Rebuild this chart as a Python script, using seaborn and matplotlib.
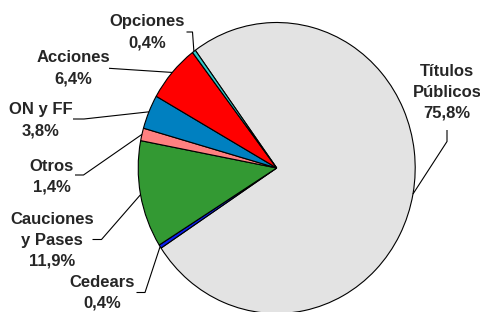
import numpy as np
import matplotlib
matplotlib.use("Agg")
import matplotlib.pyplot as plt
import seaborn as sns

categorias = ["Títulos\nPúblicos", "Cedears", "Cauciones\ny Pases", "Otros", "ON y FF", "Acciones", "Opciones"]
porcentajes = [75.8, 0.4, 11.9, 1.4, 3.8, 6.4, 0.4]
colores = ["#E3E3E3", "#0A1EF0", "#339933", "#FF8080", "#0080C0", "#FF0000", "#33CCCC"]

# posiciones de etiquetas (pixeles) y quiebres de las lineas guia
pos_texto = [(447, 92.5), (102, 293), (52, 240.5), (52, 177), (41, 120), (73, 68.5), (147, 32)]
guias = [
    [(447, 130), (447, 141.5)],
    [(136.5, 292.5), (145, 292.5)],
    [(92.5, 239.5), (101.5, 239.5)],
    [(75, 175), (83.5, 175)],
    [(73, 119), (84, 119)],
    [(109, 68.3)],
    [(186.5, 32), (192.5, 32)],
]

W, H = 481, 312
CX, CY, RX, RY = 276.7, 168.0, 138.5, 145.5


def a_datos(px, py):
    return (px - CX) / RX, (CY - py) / RY


sns.set_style("white")
plt.rcParams["font.family"] = ["Liberation Sans", "DejaVu Sans"]

fig = plt.figure(figsize=(W / 100, H / 100), dpi=100)
ax = fig.add_axes([0, 0, 1, 1])

wedges, _ = ax.pie(porcentajes, colors=colores, startangle=126, counterclock=False,
                   radius=1, center=(0, 0),
                   wedgeprops=dict(edgecolor="black", linewidth=0.8))

for w, lab, val, (tx, ty), quiebres in zip(wedges, categorias, porcentajes, pos_texto, guias):
    txt = lab + "\n" + f"{val:.1f}".replace(".", ",") + "%"
    x, y = a_datos(tx, ty)
    ax.text(x, y, txt, ha="center", va="center", fontsize=12, fontweight="bold",
            linespacing=1.5, multialignment="center")
    ang = np.deg2rad((w.theta1 + w.theta2) / 2)
    pts = [a_datos(*p) for p in quiebres] + [(np.cos(ang), np.sin(ang))]
    xs, ys = zip(*pts)
    ax.plot(xs, ys, color="black", linewidth=0.8, solid_capstyle="butt")

ax.set_aspect("auto")
ax.set_xlim((0 - CX) / RX, (W - CX) / RX)
ax.set_ylim((CY - H) / RY, CY / RY)
ax.axis("off")

fig.savefig("out.png", dpi=100)
